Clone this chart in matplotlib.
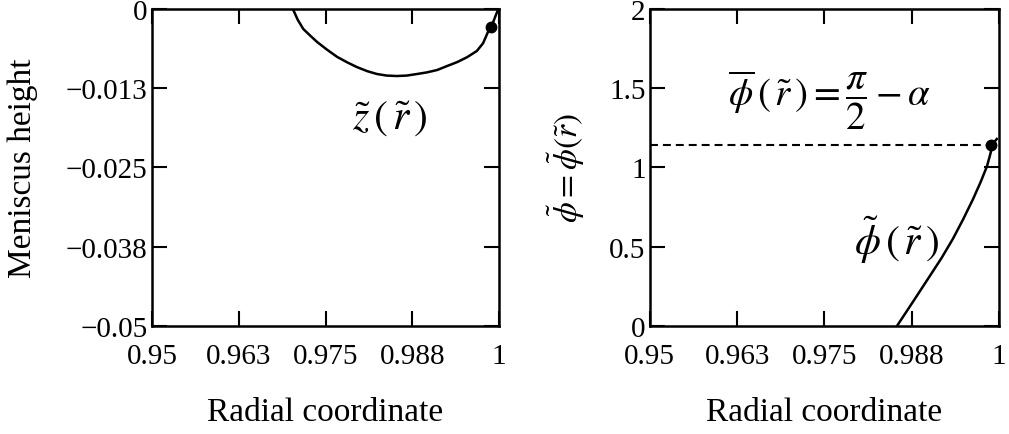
import matplotlib.pyplot as plt

plt.rcParams['font.family'] = 'Liberation Serif'
plt.rcParams['mathtext.fontset'] = 'stix'

# meniscus height z(r)
r_z = [0.9703, 0.9710, 0.9718, 0.9728, 0.9738, 0.9752, 0.9767, 0.9781, 0.9795,
       0.9810, 0.9824, 0.9838, 0.9853, 0.9867, 0.9882, 0.9896, 0.9911, 0.9925,
       0.9940, 0.9954, 0.9968, 0.9977, 0.9984, 0.9990, 0.9996, 0.9999]
z = [0.0, -0.0017, -0.00315, -0.0042, -0.00521, -0.0064, -0.00757, -0.0084,
     -0.00915, -0.0098, -0.01025, -0.0105, -0.01057, -0.0105, -0.01025,
     -0.0100, -0.00962, -0.0090, -0.00836, -0.0076, -0.00662, -0.0054,
     -0.00363, -0.0025, -0.00079, 0.0]
z_dot = (0.9988, -0.0028)

# angle phi(r)
r_phi = [0.9854, 0.9878, 0.9901, 0.9918, 0.9934, 0.9949, 0.9963, 0.9974,
         0.9983, 0.9988, 0.9991, 0.9997]
phi = [0.0, 0.16, 0.315, 0.43, 0.549, 0.675, 0.801, 0.91, 1.009, 1.09,
       1.148, 1.18]
phi_dot = (0.99885, 1.142)
phi_bar = 1.142  # pi/2 - alpha

xticks = [0.95, 0.9625, 0.975, 0.9875, 1.0]
xlabels = ['0.95', '0.963', '0.975', '0.988', '1']
zticks = [0, -0.0125, -0.025, -0.0375, -0.05]
zlabels = ['0', '\u22120.013', '\u22120.025', '\u22120.038', '\u22120.05']
phiticks = [0, 0.5, 1, 1.5, 2]
philabels = ['0', '0.5', '1', '1.5', '2']

fig = plt.figure(figsize=(10.09, 4.35), dpi=100)
ax1 = fig.add_axes([0.1506, 0.2483, 0.344, 0.7287])
ax2 = fig.add_axes([0.644, 0.2483, 0.346, 0.7287])

def style(ax):
    for s in ax.spines.values():
        s.set_linewidth(1.8)
    ax.tick_params(direction='in', length=11, width=1.5, top=True, right=True,
                   labelsize=21, pad=3)
    ax.tick_params(axis='x', pad=12)
    ax.set_xlim(0.95, 1.0)
    ax.set_xticks(xticks)
    ax.set_xticklabels(xlabels)
    ax.set_xlabel('Radial coordinate', fontsize=24, labelpad=20)

style(ax1)
ax1.plot(r_z, z, color='black', lw=1.8)
ax1.plot(*z_dot, 'o', color='black', ms=7.5)
ax1.set_ylim(-0.05, 0)
ax1.set_yticks(zticks)
ax1.set_yticklabels(zlabels)
ax1.set_ylabel('Meniscus height', fontsize=24, labelpad=20)
ax1.text(0.9843, -0.0172, r'$\tilde{z}\,\left(\,\tilde{r}\,\right)$', fontsize=30,
         ha='center', va='center')

style(ax2)
ax2.plot(r_phi, phi, color='black', lw=1.8)
ax2.plot([0.95, phi_dot[0]], [phi_bar, phi_bar], color='black', lw=1.5,
         dashes=(3.8, 2.4))
ax2.plot(*phi_dot, 'o', color='black', ms=7.5)
ax2.set_ylim(0, 2)
ax2.set_yticks(phiticks)
ax2.set_yticklabels(philabels)
ax2.set_ylabel(r'$\tilde{\phi}=\tilde{\phi}(\tilde{r})$', fontsize=24, labelpad=16)
ax2.text(0.9612, 1.43,
         r'$\overline{\phi}\,\left(\,\tilde{r}\,\right)=\dfrac{\pi}{2}-\alpha$',
         fontsize=28, ha='left', va='center')
ax2.text(0.9854, 0.55, r'$\tilde{\phi}\,\left(\,\tilde{r}\,\right)$', fontsize=30,
         ha='center', va='center')

fig.savefig('out.png', dpi=100)
